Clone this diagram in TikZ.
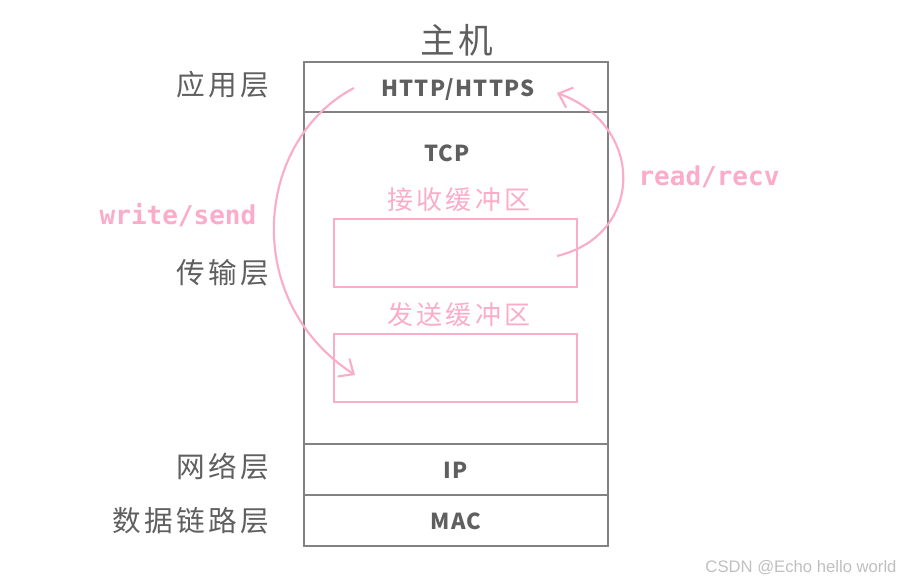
\documentclass[tikz,border=0pt]{standalone}
\usepackage{fontspec}
\setmainfont{Noto Sans CJK SC}
\newfontfamily\monofont{DejaVu Sans Mono}
\newfontfamily\markfont{Liberation Sans}
\usetikzlibrary{arrows.meta}
\definecolor{boxgray}{RGB}{130,130,130}
\definecolor{txtgray}{RGB}{95,95,95}
\definecolor{softpink}{RGB}{250,172,200}
\tikzset{
  layerbox/.style={draw=boxgray, line width=2.2pt, minimum width=228pt, inner sep=0pt},
  layertext/.style={text=txtgray, font=\fontsize{16.5}{18}\selectfont\bfseries\addfontfeature{LetterSpace=6}},
  side/.style={anchor=east, text=txtgray, font=\fontsize{21.5}{23}\selectfont\addfontfeature{LetterSpace=12}},
  buf/.style={draw=softpink, line width=2pt, minimum width=182.25pt, minimum height=51pt, inner sep=0pt},
  buftext/.style={text=softpink, font=\fontsize{19.5}{21}\selectfont\addfontfeature{LetterSpace=12}},
  calltext/.style={text=softpink, font=\fontsize{19.5}{21}\selectfont\monofont\bfseries},
  call/.style={draw=softpink, line width=1.6pt, -{Straight Barb[length=9pt,width=16pt,line width=1.6pt]}}
}
\begin{document}
\begin{tikzpicture}[x=0.75pt,y=-0.75pt]
    \useasboundingbox (0,0) rectangle (901,584);
    % host stack
    \node[text=txtgray, font=\fontsize{26}{28}\selectfont\addfontfeature{LetterSpace=10}] (host) at (457,40) {主机};
    \node[layerbox, minimum height=37.5pt] (app) at (456,87) {};
    \node[layerbox, minimum height=249pt] (trans) at (456,278) {};
    \node[layerbox, minimum height=38.25pt] (net) at (456,469.5) {};
    \node[layerbox, minimum height=38.25pt] (link) at (456,520.5) {};
    \node[layertext] (http) at (458,90) {HTTP/HTTPS};
    \node[layertext] (tcp) at (447,153) {TCP};
    \node[layertext] (ip) at (456,470) {IP};
    \node[layertext] (mac) at (456,521) {MAC};
    % buffers
    \node[buftext] (recvlbl) at (459,200) {接收缓冲区};
    \node[buf] (recvbuf) at (455.5,253) {};
    \node[buftext] (sendlbl) at (459,315) {发送缓冲区};
    \node[buf] (sendbuf) at (455.5,368) {};
    % layer names
    \node[side] (l5) at (274,85) {应用层};
    \node[side] (l4) at (274,273) {传输层};
    \node[side] (l3) at (274,467) {网络层};
    \node[side] (l2) at (274,521) {数据链路层};
    % system calls
    \node[calltext] (write) at (178,215) {write/send};
    \node[calltext] (read) at (709,177) {read/recv};
    \coordinate (ws) at (354,88);
    \coordinate (we) at (355,375);
    \coordinate (rs) at (557,256);
    \coordinate (re) at (557,93);
    \draw[call] (ws) .. controls (255,140) and (240,300) .. (we);
    \draw[call] (rs) .. controls (645,235) and (645,125) .. (re);
    \node[text=black!25, font=\fontsize{12.5}{14}\selectfont\markfont] (mark) at (801,568) {CSDN @Echo hello world};
\end{tikzpicture}
\end{document}
